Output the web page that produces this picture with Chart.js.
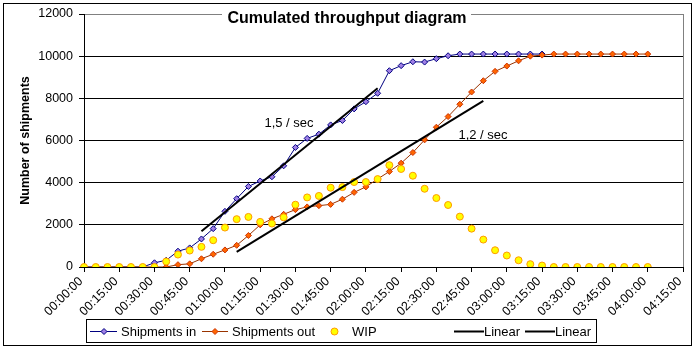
<!DOCTYPE html>
<html>
<head>
<meta charset="utf-8">
<script src="https://cdn.jsdelivr.net/npm/chart.js@4.4.1/dist/chart.umd.min.js"></script>
<style>
  html, body { margin: 0; padding: 0; background: #fff; }
  #wrap { width: 698px; height: 350px; position: relative; }
</style>
</head>
<body>
<div id="wrap"><canvas id="c"></canvas></div>
<script>
// categories: one point every 5 minutes, axis runs to 04:15:00
const timeLabels = [
  '00:00:00', '00:05:00', '00:10:00', '00:15:00', '00:20:00', '00:25:00',
  '00:30:00', '00:35:00', '00:40:00', '00:45:00', '00:50:00', '00:55:00',
  '01:00:00', '01:05:00', '01:10:00', '01:15:00', '01:20:00', '01:25:00',
  '01:30:00', '01:35:00', '01:40:00', '01:45:00', '01:50:00', '01:55:00',
  '02:00:00', '02:05:00', '02:10:00', '02:15:00', '02:20:00', '02:25:00',
  '02:30:00', '02:35:00', '02:40:00', '02:45:00', '02:50:00', '02:55:00',
  '03:00:00', '03:05:00', '03:10:00', '03:15:00', '03:20:00', '03:25:00',
  '03:30:00', '03:35:00', '03:40:00', '03:45:00', '03:50:00', '03:55:00',
  '04:00:00', '04:05:00', '04:10:00', '04:15:00'
];

const shipmentsIn = [
  0, 0, 0, 0, 0, 0, 200, 320, 750, 905, 1330, 1820,
  2640, 3240, 3820, 4080, 4280, 4800, 5670, 6100, 6300, 6740, 6950, 7500,
  7840, 8240, 9310, 9550, 9735, 9720, 9880, 10020, 10100, 10100, 10100, 10100,
  10100, 10100, 10100, 10100
];

const shipmentsOut = [
  0, 0, 0, 0, 0, 0, 0, 0, 110, 150, 390, 605,
  810, 1030, 1495, 2000, 2285, 2500, 2720, 2850, 2910, 2970, 3215, 3540,
  3800, 4175, 4530, 4925, 5430, 6030, 6630, 7135, 7720, 8300, 8835, 9280,
  9530, 9780, 10000, 10050, 10100, 10100, 10100, 10100, 10100, 10100, 10100, 10100,
  10100
];

const wip = [
  0, 0, 0, 0, 0, 0, 0, 260, 590, 780, 955, 1270,
  1870, 2270, 2375, 2140, 2060, 2355, 2955, 3300, 3370, 3760, 3790, 4030,
  4030, 4170, 4830, 4650, 4330, 3710, 3270, 2940, 2390, 1820, 1300, 795,
  545, 320, 135, 70, 0, 0, 0, 0, 0, 0, 0, 0,
  0
];

// trend lines (start / end)
const linearInX = ['00:50:00', '02:05:00'];
const linearInY = [1700, 8480];
const linearOutX = ['01:05:00', '02:50:00'];
const linearOutY = [720, 7875];

const yTicks = [0, 2000, 4000, 6000, 8000, 10000, 12000];

const FONT = 'Arial, "Liberation Sans", sans-serif';
Chart.defaults.font.family = FONT;
Chart.defaults.color = '#000';

const pairs = (xs, ys) => xs.map((x, i) => ({ x, y: ys[i] }));

// title, rate labels, legend and frame drawn on the canvas
const decorPlugin = {
  id: 'decor',
  afterDraw(chart) {
    const ctx = chart.ctx;
    ctx.save();
    // title over the plot top border
    ctx.fillStyle = '#fff';
    ctx.fillRect(222, 6, 249, 18);
    ctx.fillStyle = '#000';
    ctx.font = 'bold 16px ' + FONT;
    ctx.textAlign = 'center';
    ctx.textBaseline = 'alphabetic';
    ctx.fillText('Cumulated throughput diagram', 347, 23);

    ctx.font = '13px ' + FONT;
    ctx.fillText('1,5 / sec', 289, 127);
    ctx.fillText('1,2 / sec', 483, 139);

    // outer frame
    ctx.strokeStyle = '#000';
    ctx.lineWidth = 1;
    ctx.strokeRect(3.5, 3.5, 688, 342);

    // legend box
    ctx.strokeRect(86.5, 319.5, 510, 23);
    const ly = 331;
    ctx.font = '13px ' + FONT;
    ctx.textAlign = 'left';
    ctx.textBaseline = 'middle';

    const lineItem = (x0, x1, color, width) => {
      ctx.beginPath();
      ctx.strokeStyle = color;
      ctx.lineWidth = width;
      ctx.moveTo(x0, ly + 0.5);
      ctx.lineTo(x1, ly + 0.5);
      ctx.stroke();
    };
    const diamond = (cx, fill, stroke) => {
      ctx.beginPath();
      ctx.moveTo(cx - 3, ly + 0.5);
      ctx.lineTo(cx, ly - 2.5);
      ctx.lineTo(cx + 3, ly + 0.5);
      ctx.lineTo(cx, ly + 3.5);
      ctx.closePath();
      ctx.fillStyle = fill;
      ctx.fill();
      ctx.strokeStyle = stroke;
      ctx.lineWidth = 1;
      ctx.stroke();
    };

    lineItem(90, 117, '#000080', 1);
    diamond(104, '#9F7FE5', '#000080');
    ctx.fillStyle = '#000';
    ctx.fillText('Shipments in', 121, ly + 1);

    lineItem(202, 228, '#993300', 1);
    diamond(215, '#FF6600', '#CC3300');
    ctx.fillStyle = '#000';
    ctx.fillText('Shipments out', 232, ly + 1);

    ctx.beginPath();
    ctx.arc(334.5, ly + 0.5, 3.5, 0, Math.PI * 2);
    ctx.fillStyle = '#FFFF00';
    ctx.fill();
    ctx.strokeStyle = '#FF9900';
    ctx.lineWidth = 1;
    ctx.stroke();
    ctx.fillStyle = '#000';
    ctx.fillText('WIP', 352, ly + 1);

    lineItem(454, 484, '#000', 2);
    ctx.fillStyle = '#000';
    ctx.fillText('Linear', 484, ly + 1);
    lineItem(525, 555, '#000', 2);
    ctx.fillStyle = '#000';
    ctx.fillText('Linear', 555, ly + 1);
    ctx.restore();
  }
};

new Chart(document.getElementById('c'), {
  type: 'line',
  data: {
    labels: timeLabels,
    datasets: [
      {
        label: 'Shipments in',
        data: shipmentsIn,
        borderColor: '#000080',
        borderWidth: 1,
        pointStyle: 'rectRot',
        pointRadius: 3,
        pointBackgroundColor: '#9F7FE5',
        pointBorderColor: '#000080',
        pointBorderWidth: 1,
        order: 5
      },
      {
        label: 'Shipments out',
        data: shipmentsOut,
        borderColor: '#993300',
        borderWidth: 1,
        pointStyle: 'rectRot',
        pointRadius: 3,
        pointBackgroundColor: '#FF6600',
        pointBorderColor: '#CC3300',
        pointBorderWidth: 1,
        order: 4
      },
      {
        label: 'WIP',
        data: wip,
        showLine: false,
        pointStyle: 'circle',
        pointRadius: 3.5,
        pointBackgroundColor: '#FFFF00',
        pointBorderColor: '#FF9900',
        pointBorderWidth: 1,
        order: 3
      },
      {
        label: 'Linear',
        data: pairs(linearInX, linearInY),
        borderColor: '#000',
        borderWidth: 2,
        pointRadius: 0,
        order: 2
      },
      {
        label: 'Linear',
        data: pairs(linearOutX, linearOutY),
        borderColor: '#000',
        borderWidth: 2,
        pointRadius: 0,
        order: 1
      }
    ]
  },
  options: {
    responsive: true,
    maintainAspectRatio: false,
    animation: false,
    events: [],
    layout: { padding: { top: 14, right: 15, left: 0, bottom: 0 } },
    plugins: {
      legend: { display: false },
      title: { display: false },
      tooltip: { enabled: false }
    },
    scales: {
      x: {
        type: 'category',
        offset: false,
        afterFit: (s) => { s.height = 83; },
        border: { display: true, color: '#000', width: 1 },
        grid: {
          offset: false,
          drawOnChartArea: true,
          color: (c) => c.index === timeLabels.length - 1 ? '#808080' : 'rgba(0,0,0,0)',
          tickColor: (c) => c.index % 3 === 0 ? '#000' : 'rgba(0,0,0,0)',
          tickLength: 5
        },
        ticks: {
          autoSkip: false,
          maxRotation: 45,
          minRotation: 45,
          padding: 2,
          labelOffset: -3,
          font: { size: 12.5 },
          callback: (v, i) => i % 3 === 0 ? timeLabels[i] : ''
        }
      },
      y: {
        min: 0,
        max: 12000,
        afterFit: (s) => { s.width = 84; },
        afterBuildTicks: (s) => { s.ticks = yTicks.map(v => ({ value: v })); },
        border: { display: true, color: '#000', width: 1 },
        grid: {
          color: (c) => c.tick && c.tick.value === 12000 ? '#808080' : '#000',
          tickColor: '#000',
          tickLength: 5
        },
        ticks: {
          padding: 6,
          font: { size: 12.5 },
          callback: (v) => String(v)
        },
        title: {
          display: true,
          text: 'Number of shipments',
          font: { size: 12.5, weight: 'bold' },
          padding: { top: 18, bottom: 0 }
        }
      }
    }
  },
  plugins: [decorPlugin]
});
</script>
</body>
</html>
